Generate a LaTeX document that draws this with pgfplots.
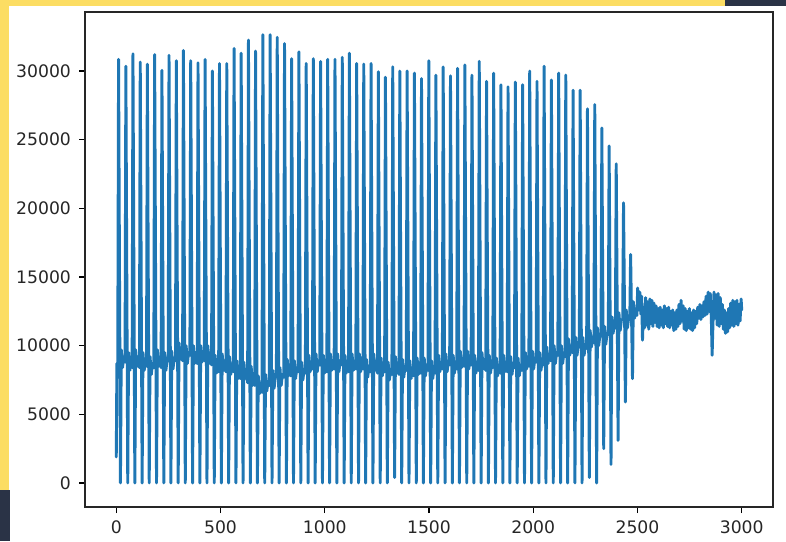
\documentclass[border=0pt]{standalone}
\usepackage{pgfplots}
\pgfplotsset{compat=1.18}
\usepackage{fontspec}
\setmainfont{DejaVu Sans}
\definecolor{mplblue}{HTML}{1F77B4}
\definecolor{yel}{HTML}{FCDD63}
\definecolor{navy}{HTML}{2A3346}
\definecolor{tickgray}{HTML}{262626}
\begin{document}
\begin{tikzpicture}
\path[use as bounding box, fill=white] (0,0) rectangle (393pt,270.5pt);
\fill[yel] (0,25.5pt) rectangle (4.5pt,270.5pt);
\fill[yel] (0,267.5pt) rectangle (362.5pt,270.5pt);
\fill[navy] (362.5pt,267.5pt) rectangle (393pt,270.5pt);
\fill[navy] (0,0) rectangle (5pt,25.5pt);
\begin{axis}[
  at={(42.5pt,17pt)}, anchor=south west,
  scale only axis, width=344pt, height=247.5pt,
  xmin=-150, xmax=3150, ymin=-1750, ymax=34300,
  xtick={0,500,...,3000}, ytick={0,5000,...,30000},
  tick pos=left, tick align=outside, major tick length=3pt,
  tick style={black, line width=0.6pt},
  axis line style={black!85, line width=0.7pt},
  scaled ticks=false,
  /pgf/number format/assume math mode=true,
  /pgf/number format/1000 sep={},
  tick label style={font=\fontsize{8.6}{10}\selectfont, text=tickgray},
  xticklabel style={yshift=-0.5pt},
  yticklabel style={xshift=-0.5pt},
]
\addplot[mplblue, line width=1.45pt, line join=round, line cap=round] coordinates {
(0,1900) (3,8700)
(7,8600) (11,30850) (20,0) (24,9700) (30,8400) (36,9200)
(42,8800) (46,30350) (55,0) (59,9500) (65,8200) (71,9000)
(76,8400) (80,31250) (89,0) (93,9700) (99,8500) (105,9200)
(111,8400) (115,30650) (124,0) (128,9500) (134,8200) (140,9000)
(145,8500) (149,30500) (158,0) (162,9200) (168,7900) (174,8700)
(180,8400) (184,31200) (193,0) (197,9700) (203,8500) (209,9200)
(215,8400) (219,30050) (228,0) (232,9500) (238,8200) (244,9000)
(249,8900) (253,31150) (262,0) (266,9600) (272,8300) (278,9100)
(284,8900) (288,30750) (297,0) (301,10200) (307,9000) (313,9700)
(318,8900) (322,31500) (331,0) (335,10000) (341,8700) (347,9500)
(353,9300) (357,30750) (366,0) (370,10000) (376,8700) (382,9500)
(388,8700) (392,30600) (401,0) (405,10000) (411,8800) (417,9500)
(422,8900) (426,30850) (435,0) (439,10000) (445,8700) (451,9500)
(457,8600) (461,30000) (470,0) (474,9300) (480,8000) (486,8800)
(491,8100) (495,30550) (504,0) (508,9400) (514,8200) (520,8900)
(526,8100) (530,30550) (539,0) (543,9200) (549,7900) (555,8700)
(561,8100) (565,31650) (574,0) (578,8900) (584,7600) (590,8400)
(595,7600) (599,31300) (608,0) (612,8800) (618,7600) (624,8300)
(630,7300) (634,32250) (643,0) (647,8500) (653,7100) (659,7900)
(664,7100) (668,31450) (677,0) (681,7800) (687,6500) (693,7300)
(699,6600) (703,32650) (712,0) (716,7900) (722,6700) (728,7400)
(734,7100) (738,32650) (747,0) (751,8200) (757,6900) (763,7700)
(768,7700) (772,32450) (781,0) (785,8400) (791,7100) (797,7900)
(803,7700) (807,32000) (816,0) (820,9000) (826,7800) (832,8500)
(837,7800) (841,30900) (850,0) (854,8900) (860,7600) (866,8400)
(872,8100) (876,31400) (885,0) (889,8800) (895,7500) (901,8300)
(907,8000) (911,30550) (920,0) (924,9300) (930,8100) (936,8800)
(941,8300) (945,30900) (954,0) (958,9400) (964,8100) (970,8900)
(976,8600) (980,30700) (989,0) (993,9300) (999,8000) (1005,8800)
(1010,8100) (1014,30850) (1023,0) (1027,9400) (1033,8200) (1039,8900)
(1045,8300) (1049,30850) (1058,0) (1062,9400) (1068,8100) (1074,8900)
(1080,8600) (1084,31000) (1093,0) (1097,9300) (1103,8000) (1109,8800)
(1114,8100) (1118,31300) (1127,0) (1131,9400) (1137,8200) (1143,8900)
(1149,8300) (1153,30550) (1162,0) (1166,9400) (1172,8100) (1178,8900)
(1183,8300) (1187,30500) (1196,0) (1200,9000) (1206,7700) (1212,8500)
(1218,8100) (1222,30550) (1231,0) (1235,9400) (1241,8200) (1247,8900)
(1253,8000) (1257,29950) (1266,0) (1270,9100) (1276,7800) (1282,8600)
(1287,8100) (1291,29550) (1300,0) (1304,8800) (1310,7500) (1316,8300)
(1322,7900) (1326,30300) (1335,400) (1339,9200) (1345,8000) (1351,8700)
(1356,7900) (1360,30000) (1369,0) (1373,9000) (1379,7700) (1385,8500)
(1391,8200) (1395,30000) (1404,0) (1408,8900) (1414,7600) (1420,8400)
(1426,7800) (1430,29850) (1439,0) (1443,9100) (1449,7900) (1455,8600)
(1460,8000) (1464,29450) (1473,0) (1477,9100) (1483,7800) (1489,8600)
(1495,8200) (1499,30750) (1508,0) (1512,8900) (1518,7600) (1524,8400)
(1529,8000) (1533,29700) (1542,0) (1546,9300) (1552,8100) (1558,8800)
(1564,8300) (1568,30300) (1577,0) (1581,9400) (1587,8100) (1593,8900)
(1599,8600) (1603,29650) (1612,0) (1616,9300) (1622,8000) (1628,8800)
(1633,8300) (1637,30200) (1646,0) (1650,9600) (1656,8400) (1662,9100)
(1668,8500) (1672,30450) (1681,0) (1685,9600) (1691,8300) (1697,9100)
(1702,8600) (1706,29700) (1715,0) (1719,9300) (1725,8000) (1731,8800)
(1737,8200) (1741,30700) (1750,0) (1754,9500) (1760,8300) (1766,9000)
(1772,8200) (1776,29250) (1785,0) (1789,9300) (1795,8000) (1801,8800)
(1806,8400) (1810,29850) (1819,0) (1823,9100) (1829,7800) (1835,8600)
(1841,8000) (1845,29000) (1854,0) (1858,9300) (1864,8100) (1870,8800)
(1875,8100) (1879,28850) (1888,0) (1892,9200) (1898,7900) (1904,8700)
(1910,8400) (1914,29200) (1923,0) (1927,9100) (1933,7800) (1939,8600)
(1945,8200) (1949,29000) (1958,0) (1962,9500) (1968,8300) (1974,9000)
(1979,8500) (1983,30000) (1992,0) (1996,9600) (2002,8300) (2008,9100)
(2014,8800) (2018,29250) (2027,0) (2031,9500) (2037,8200) (2043,9000)
(2048,8600) (2052,30350) (2061,0) (2065,9900) (2071,8700) (2077,9400)
(2083,8900) (2087,29350) (2096,0) (2100,10000) (2106,8700) (2112,9500)
(2118,9300) (2122,29850) (2131,0) (2135,10000) (2141,8700) (2147,9500)
(2152,9200) (2156,29700) (2165,0) (2169,10500) (2175,9300) (2181,10000)
(2187,9500) (2191,28600) (2200,0) (2204,10600) (2210,9300) (2216,10100)
(2221,9900) (2225,28600) (2234,0) (2238,10600) (2244,9300) (2250,10100)
(2256,9800) (2260,27250) (2269,400) (2273,11100) (2279,9900) (2285,10600)
(2291,10200) (2295,27550) (2304,0) (2308,11300) (2314,10000) (2320,10800)
(2325,10700) (2329,25850) (2338,2500) (2342,11400) (2348,10100) (2354,10900)
(2360,10800) (2364,24550) (2373,1350) (2377,12100) (2383,10900) (2389,11600)
(2394,11300) (2398,23250) (2407,3100) (2411,12400) (2417,11100) (2423,11900)
(2429,11900) (2433,20400) (2442,5900) (2446,12600) (2452,11300) (2458,12100)
(2463,11900) (2467,16650) (2476,7600) (2480,13200) (2486,12000) (2492,12700)
(2497,12200) (2501,14200) (2506,12600) (2511,13900) (2516,12300) (2520,13600)
(2524,10400) (2529,12800) (2534,11300) (2539,13500) (2544,11500) (2549,13200)
(2554,11200) (2559,13400) (2564,11600) (2569,13300) (2574,11400) (2579,13100)
(2584,11700) (2589,12900) (2594,11400) (2599,12700) (2604,11300) (2609,12800)
(2614,11500) (2619,12600) (2624,11300) (2629,12900) (2634,11600) (2639,12700)
(2644,11400) (2649,12800) (2654,11300) (2659,12500) (2664,11500) (2669,12600)
(2674,11100) (2679,12400) (2684,11200) (2689,12600) (2694,11400) (2699,13000)
(2704,11600) (2709,13300) (2714,11800) (2719,12900) (2724,11200) (2729,12700)
(2734,11100) (2739,12500) (2744,11300) (2749,12700) (2754,11200) (2759,12400)
(2764,11100) (2769,12600) (2774,11300) (2779,12500) (2784,11600) (2789,12800)
(2794,12000) (2799,13000) (2804,11900) (2809,12900) (2814,12100) (2819,13200)
(2824,12200) (2829,13600) (2834,12300) (2839,13900) (2844,12500) (2849,13800)
(2854,12100) (2858,9300) (2862,11600) (2867,13900) (2872,12000) (2877,13700)
(2882,11500) (2887,13800) (2892,11400) (2897,13500) (2902,11600) (2907,13000)
(2912,11200) (2917,12600) (2922,10900) (2927,12400) (2932,11000) (2937,12700)
(2942,11300) (2947,13100) (2952,11500) (2957,13300) (2962,11400) (2967,13200)
(2972,11600) (2977,13300) (2982,11500) (2987,13000) (2992,11800) (2997,13400)
(3000,12600)
};
\end{axis}
\end{tikzpicture}
\end{document}
